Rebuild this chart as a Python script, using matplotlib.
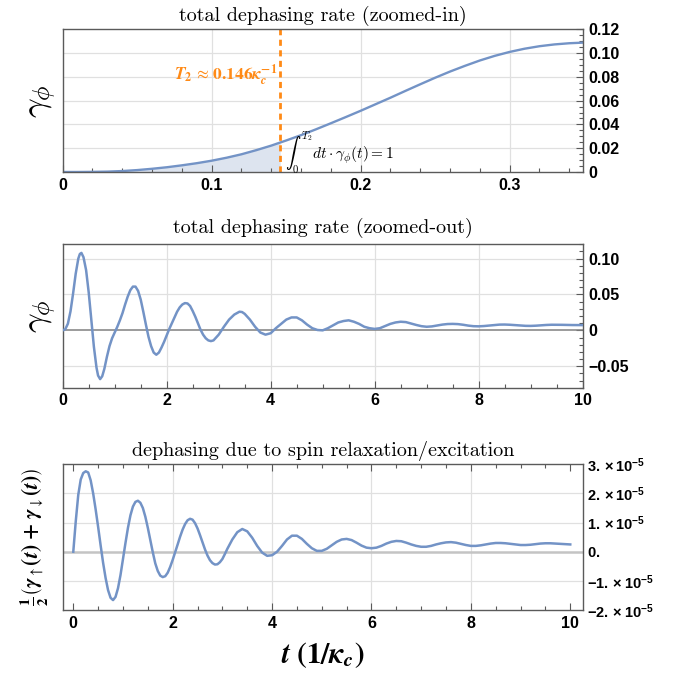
import numpy as np
import matplotlib
matplotlib.use("Agg")
import matplotlib.pyplot as plt
from matplotlib.ticker import FixedLocator, MultipleLocator

# ----------------- data -----------------
T2 = 0.146

# zoomed-in total dephasing rate
t_in = [0.00, 0.01, 0.02, 0.03, 0.04, 0.05, 0.06, 0.07, 0.08, 0.09, 0.10, 0.11,
        0.12, 0.13, 0.14, 0.146, 0.15, 0.16, 0.17, 0.18, 0.19, 0.20, 0.21, 0.22,
        0.23, 0.24, 0.25, 0.26, 0.27, 0.28, 0.29, 0.30, 0.31, 0.32, 0.33, 0.34,
        0.349]
g_in = [0.0, 0.0, 0.0001, 0.0003, 0.0008, 0.0016, 0.0027, 0.0040, 0.0056, 0.0074, 0.0095, 0.0120,
        0.0149, 0.0184, 0.0222, 0.0248, 0.0265, 0.0310, 0.0359, 0.0410, 0.0462, 0.0515, 0.0570, 0.0625,
        0.0682, 0.0738, 0.0793, 0.0845, 0.0893, 0.0938, 0.0977, 0.1010, 0.1037, 0.1058, 0.1073, 0.1083,
        0.1088]

# zoomed-out total dephasing rate
t_out = [0.00, 0.05, 0.10, 0.15, 0.20, 0.25, 0.30, 0.33, 0.36, 0.40, 0.45, 0.50,
         0.55, 0.60, 0.65, 0.68, 0.72, 0.76, 0.80, 0.85, 0.90, 0.95, 1.00, 1.05,
         1.10, 1.15, 1.20, 1.25, 1.30, 1.35, 1.40, 1.45, 1.50, 1.55, 1.60, 1.65,
         1.70, 1.75, 1.80, 1.85, 1.90, 1.95, 2.00, 2.05, 2.10, 2.15, 2.20, 2.25,
         2.30, 2.35, 2.40, 2.45, 2.50, 2.55, 2.60, 2.65, 2.70, 2.75, 2.80, 2.85,
         2.90, 2.95, 3.00, 3.10, 3.20, 3.30, 3.40, 3.45, 3.50, 3.60, 3.70, 3.80,
         3.90, 4.00, 4.10, 4.20, 4.30, 4.40, 4.50, 4.60, 4.70, 4.80, 4.90, 5.00,
         5.10, 5.20, 5.30, 5.40, 5.50, 5.60, 5.70, 5.80, 5.90, 6.00, 6.10, 6.20,
         6.30, 6.40, 6.50, 6.60, 6.70, 6.80, 6.90, 7.00, 7.10, 7.20, 7.30, 7.40,
         7.50, 7.60, 7.70, 7.80, 7.90, 8.00, 8.10, 8.20, 8.30, 8.40, 8.50, 8.60,
         8.70, 8.80, 8.90, 9.00, 9.10, 9.20, 9.30, 9.40, 9.50, 9.60, 9.70, 9.80,
         9.90, 10.0]
g_out = [0.0, 0.0016, 0.0093, 0.0265, 0.0515, 0.079, 0.100, 0.1065, 0.108, 0.102, 0.084, 0.053,
         0.015, -0.023, -0.052, -0.063, -0.068, -0.064, -0.054, -0.037, -0.022, -0.011, -0.003, 0.005,
         0.014, 0.024, 0.036, 0.047, 0.056, 0.061, 0.061, 0.055, 0.043, 0.026, 0.008, -0.009,
         -0.022, -0.031, -0.034, -0.031, -0.024, -0.016, -0.007, 0.002, 0.010, 0.018, 0.026, 0.032,
         0.036, 0.038, 0.0375, 0.034, 0.027, 0.019, 0.010, 0.001, -0.006, -0.011, -0.014, -0.015,
         -0.014, -0.010, -0.006, 0.005, 0.015, 0.022, 0.026, 0.0255, 0.023, 0.015, 0.005, -0.003,
         -0.006, -0.004, 0.003, 0.009, 0.015, 0.018, 0.018, 0.014, 0.008, 0.003, 0.0005, 0.0,
         0.003, 0.007, 0.011, 0.013, 0.014, 0.012, 0.009, 0.005, 0.003, 0.002, 0.003, 0.006,
         0.009, 0.011, 0.012, 0.0115, 0.0095, 0.0075, 0.0058, 0.005, 0.0055, 0.0068, 0.008, 0.0088,
         0.009, 0.0087, 0.0078, 0.0066, 0.0058, 0.0056, 0.006, 0.0067, 0.0075, 0.008, 0.0081, 0.0078,
         0.0073, 0.0067, 0.0063, 0.0062, 0.0065, 0.007, 0.0075, 0.0078, 0.0078, 0.0077, 0.0075, 0.0074,
         0.0073, 0.0073]

# spin relaxation/excitation part, in units of 1e-5
t_spin = [0.00, 0.05, 0.10, 0.15, 0.20, 0.25, 0.30, 0.35, 0.40, 0.45, 0.50, 0.55,
          0.60, 0.65, 0.70, 0.75, 0.80, 0.85, 0.90, 0.95, 1.00, 1.05, 1.10, 1.15,
          1.20, 1.25, 1.30, 1.35, 1.40, 1.45, 1.50, 1.55, 1.60, 1.65, 1.70, 1.75,
          1.80, 1.85, 1.90, 1.95, 2.00, 2.05, 2.10, 2.15, 2.20, 2.25, 2.30, 2.35,
          2.40, 2.45, 2.50, 2.55, 2.60, 2.65, 2.70, 2.75, 2.80, 2.85, 2.90, 2.95,
          3.00, 3.05, 3.10, 3.20, 3.30, 3.40, 3.50, 3.60, 3.70, 3.80, 3.90, 4.00,
          4.10, 4.20, 4.30, 4.40, 4.50, 4.60, 4.70, 4.80, 4.90, 5.00, 5.10, 5.20,
          5.30, 5.40, 5.50, 5.60, 5.70, 5.80, 5.90, 6.00, 6.10, 6.20, 6.30, 6.40,
          6.50, 6.60, 6.70, 6.80, 6.90, 7.00, 7.10, 7.20, 7.30, 7.40, 7.50, 7.60,
          7.70, 7.80, 7.90, 8.00, 8.10, 8.20, 8.30, 8.40, 8.50, 8.60, 8.70, 8.80,
          8.90, 9.00, 9.10, 9.20, 9.30, 9.40, 9.50, 9.60, 9.70, 9.80, 9.90, 10.0]
g_spin = [0.0, 1.05, 1.95, 2.48, 2.70, 2.76, 2.72, 2.45, 2.00, 1.45, 0.85, 0.22,
          -0.38, -0.90, -1.32, -1.58, -1.66, -1.55, -1.25, -0.80, -0.25, 0.30, 0.82, 1.25,
          1.55, 1.71, 1.75, 1.68, 1.50, 1.20, 0.82, 0.40, -0.02, -0.40, -0.66, -0.82,
          -0.87, -0.84, -0.72, -0.52, -0.28, -0.02, 0.25, 0.52, 0.76, 0.95, 1.08, 1.13,
          1.10, 0.98, 0.80, 0.57, 0.32, 0.08, -0.13, -0.29, -0.39, -0.44, -0.43, -0.36,
          -0.25, -0.08, 0.10, 0.42, 0.67, 0.78, 0.70, 0.48, 0.20, -0.03, -0.14, -0.12,
          0.00, 0.20, 0.42, 0.55, 0.55, 0.44, 0.27, 0.12, 0.03, 0.03, 0.10, 0.22,
          0.34, 0.42, 0.44, 0.40, 0.31, 0.21, 0.14, 0.12, 0.14, 0.20, 0.28, 0.34,
          0.37, 0.36, 0.31, 0.25, 0.20, 0.17, 0.17, 0.20, 0.25, 0.29, 0.32, 0.33,
          0.31, 0.27, 0.23, 0.20, 0.20, 0.22, 0.25, 0.28, 0.30, 0.30, 0.29, 0.27,
          0.25, 0.23, 0.23, 0.24, 0.26, 0.28, 0.29, 0.29, 0.28, 0.27, 0.26, 0.25]

in_yticks = [0, 0.02, 0.04, 0.06, 0.08, 0.10, 0.12]
in_ylabels = ["0", "0.02", "0.04", "0.06", "0.08", "0.10", "0.12"]
out_yticks = [-0.05, 0, 0.05, 0.10]
out_ylabels = ["\u22120.05", "0", "0.05", "0.10"]
spin_yticks = [-2, -1, 0, 1, 2, 3]

# ----------------- style -----------------
LINE = "#7393c6"
FILL = "#dde4ef"
ORANGE = "#ff8a16"
GRID = "#e0e0e0"
FRAME = "#5a5a5a"

plt.rcParams["mathtext.fontset"] = "custom"
plt.rcParams["mathtext.rm"] = "Liberation Sans:bold"
plt.rcParams["mathtext.bf"] = "Liberation Sans:bold"
plt.rcParams["mathtext.it"] = "Liberation Sans:bold"
TICKFONT = dict(family="Liberation Sans", weight="bold", size=11.5)
TITLE = dict(family="cmr10", size=14.5)

fig = plt.figure(figsize=(6.99, 6.79), dpi=100)
ax1 = fig.add_axes([0.0897, 0.7467, 0.7439, 0.2101])
ax2 = fig.add_axes([0.0897, 0.4290, 0.7439, 0.2112])
ax3 = fig.add_axes([0.0897, 0.1016, 0.7439, 0.2146])


def frame(ax):
    for s in ax.spines.values():
        s.set_color(FRAME)
        s.set_linewidth(1.0)
    ax.tick_params(which="both", direction="in", color=FRAME, width=0.8)
    ax.tick_params(which="major", length=5, pad=4)
    ax.tick_params(which="minor", length=3)
    ax.yaxis.tick_right()
    ax.tick_params(axis="y", which="both", left=False, right=True)
    ax.tick_params(axis="x", which="both", top=False)


# ----------------- panel 1 -----------------
frame(ax1)
t_in_a = np.array(t_in)
g_in_a = np.array(g_in)
mask = t_in_a <= T2 + 1e-9
ax1.fill_between(t_in_a[mask], 0, g_in_a[mask], color=FILL, lw=0)
ax1.plot(t_in, g_in, color=LINE, lw=1.7)
ax1.axvline(T2, color=ORANGE, ls=(0, (2.2, 1.6)), lw=2)
ax1.set_xlim(0, 0.349)
ax1.set_ylim(0, 0.12)
ax1.xaxis.set_major_locator(FixedLocator([0, 0.1, 0.2, 0.3]))
ax1.xaxis.set_minor_locator(MultipleLocator(0.02))
ax1.set_xticklabels(["0", "0.1", "0.2", "0.3"], fontdict=TICKFONT)
ax1.yaxis.set_major_locator(FixedLocator(in_yticks))
ax1.yaxis.set_minor_locator(MultipleLocator(0.005))
ax1.set_yticklabels(in_ylabels, fontdict=TICKFONT)
for x in [0.1, 0.2, 0.3]:
    ax1.axvline(x, color=GRID, lw=0.9, zorder=0)
for y in in_yticks[1:-1]:
    ax1.axhline(y, color=GRID, lw=0.9, zorder=0)
ax1.set_title("total dephasing rate (zoomed-in)", pad=6, **TITLE)
ax1.text(-0.04, 0.5, r"$\gamma_\phi$", transform=ax1.transAxes, rotation=90,
         ha="center", va="center", size=25, math_fontfamily="cm")
ax1.text(T2 - 0.002, 0.081,
         r"$\mathbfit{T}_{\mathbf{2}}\,\approx\,\mathbf{0.146}\mathbfit{\kappa}_{\mathbfit{c}}^{\mathbf{-1}}$",
         color=ORANGE, ha="right", va="center", size=12.5, math_fontfamily="stix")
ax1.text(T2 + 0.003, 0.0165, r"$\int_0^{T_2} dt\cdot\gamma_\phi(t)=1$",
         ha="left", va="center", size=11, math_fontfamily="cm")

# ----------------- panel 2 -----------------
frame(ax2)
ax2.plot(t_out, g_out, color=LINE, lw=1.8, zorder=3)
ax2.axhline(0, color="#808080", lw=1.1, zorder=2)
ax2.set_xlim(0, 10)
ax2.set_ylim(-0.08, 0.12)
ax2.xaxis.set_major_locator(FixedLocator([0, 2, 4, 6, 8, 10]))
ax2.xaxis.set_minor_locator(MultipleLocator(0.5))
ax2.set_xticklabels(["0", "2", "4", "6", "8", "10"], fontdict=TICKFONT)
ax2.yaxis.set_major_locator(FixedLocator(out_yticks))
ax2.yaxis.set_minor_locator(MultipleLocator(0.01))
ax2.set_yticklabels(out_ylabels, fontdict=TICKFONT)
for x in [2, 4, 6, 8]:
    ax2.axvline(x, color=GRID, lw=0.9, zorder=0)
for y in [-0.05, 0.05, 0.10]:
    ax2.axhline(y, color=GRID, lw=0.9, zorder=0)
ax2.set_title("total dephasing rate (zoomed-out)", pad=8, **TITLE)
ax2.text(-0.04, 0.5, r"$\gamma_\phi$", transform=ax2.transAxes, rotation=90,
         ha="center", va="center", size=25, math_fontfamily="cm")

# ----------------- panel 3 -----------------
frame(ax3)
ax3.tick_params(axis="y", which="both", right=False)
ax3.tick_params(axis="x", which="both", top=True)
ax3.plot(t_spin, np.array(g_spin) * 1e-5, color=LINE, lw=1.8, zorder=3)
ax3.axhline(0, color="#c4c4c4", lw=1.8, zorder=2)
ax3.set_xlim(-0.213, 10.25)
ax3.set_ylim(-2e-5, 3e-5)
ax3.xaxis.set_major_locator(FixedLocator([0, 2, 4, 6, 8, 10]))
ax3.xaxis.set_minor_locator(MultipleLocator(0.5))
ax3.set_xticklabels(["0", "2", "4", "6", "8", "10"], fontdict=TICKFONT)
ax3.yaxis.set_major_locator(FixedLocator([v * 1e-5 for v in spin_yticks]))
spin_labels = []
for v in spin_yticks:
    if v == 0:
        spin_labels.append(r"$\mathbf{0.}$")
    else:
        s = "-" if v < 0 else ""
        spin_labels.append(r"$\mathbf{%s%d.}\times\mathbf{10}^{\mathbf{-5}}$" % (s, abs(v)))
ax3.set_yticklabels(spin_labels, fontdict=dict(TICKFONT, size=10.5))
ax3.tick_params(axis="y", pad=3)
for x in [2, 4, 6, 8]:
    ax3.axvline(x, color=GRID, lw=0.9, zorder=0)
for y in [-1e-5, 1e-5, 2e-5]:
    ax3.axhline(y, color=GRID, lw=0.9, zorder=0)
ax3.set_title("dephasing due to spin relaxation/excitation", pad=6, **TITLE)
ax3.text(-0.055, 0.5,
         r"$\frac{\mathbf{1}}{\mathbf{2}}\left(\mathbfit{\gamma}_{\uparrow}\mathbf{(}\mathbfit{t}\mathbf{)}"
         r"\ \mathbf{+}\ \mathbfit{\gamma}_{\downarrow}\mathbf{(}\mathbfit{t}\mathbf{)}\right)$",
         transform=ax3.transAxes, rotation=90, ha="center", va="center", size=15.5,
         math_fontfamily="stix")
ax3.text(0.5, -0.31, r"$\mathbfit{t}\ \mathbf{(1/}\mathbfit{\kappa}_{\mathbfit{c}}\mathbf{)}$",
         transform=ax3.transAxes, ha="center", va="center", size=21, math_fontfamily="stix")

fig.savefig("out.png", dpi=100)
